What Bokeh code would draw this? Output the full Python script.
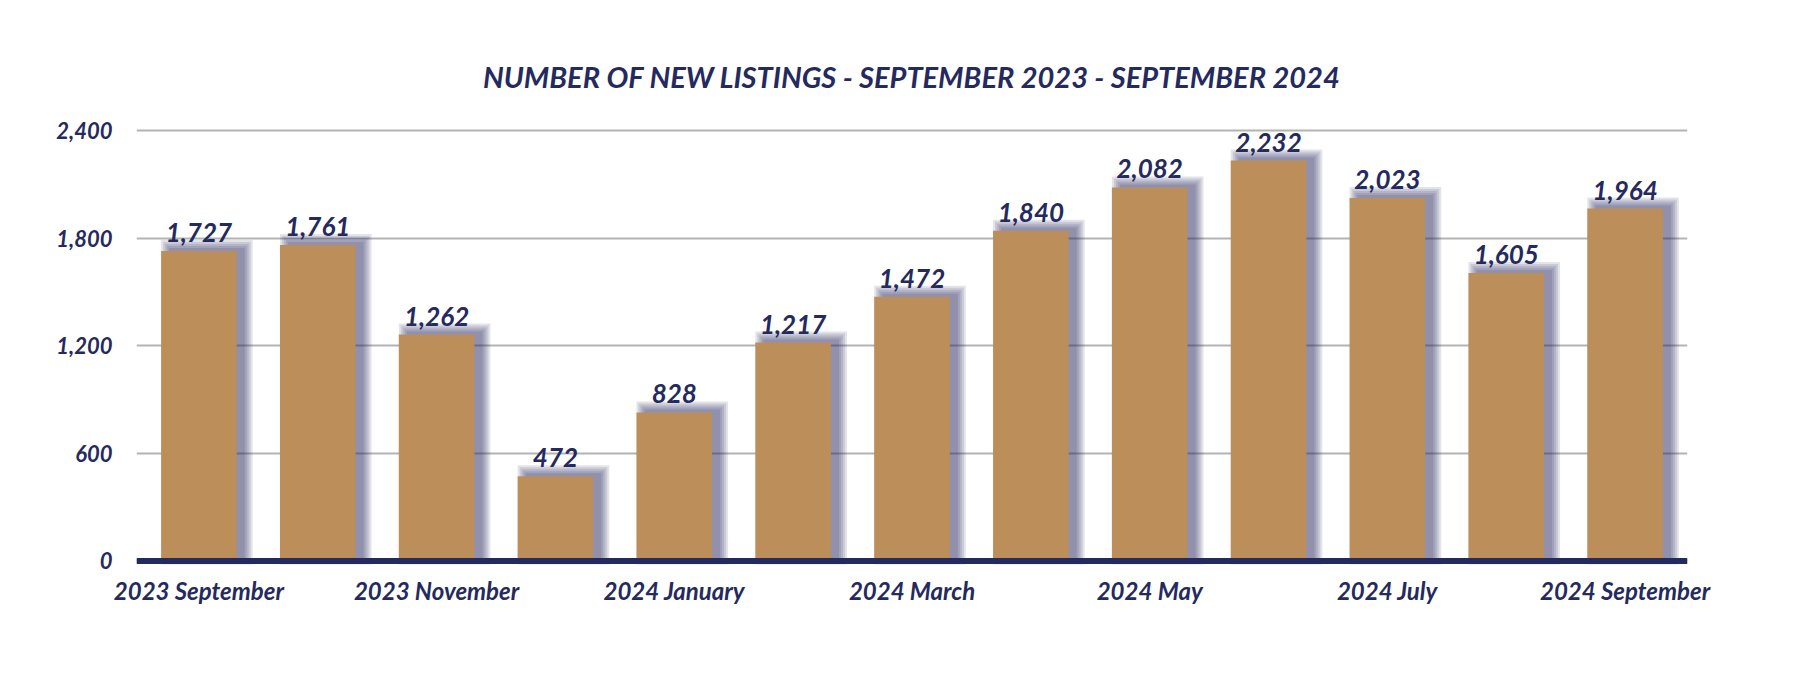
from bokeh.plotting import figure
from bokeh.models import (ColumnDataSource, FixedTicker, NumeralTickFormatter,
                          Span, Range1d, Title)
from bokeh.core.properties import value
from bokeh.embed import file_html
from bokeh.resources import INLINE

# ---- data ----
months = ["2023 September", "2023 October", "2023 November", "2023 December",
          "2024 January", "2024 February", "2024 March", "2024 April",
          "2024 May", "2024 June", "2024 July", "2024 August", "2024 September"]
listings = [1727, 1761, 1262, 472, 828, 1217, 1472, 1840, 2082, 2232, 2023, 1605, 1964]
y_ticks = [0, 600, 1200, 1800, 2400]
title_text = "NUMBER OF NEW LISTINGS - SEPTEMBER 2023 - SEPTEMBER 2024"

NAVY = "#252a5e"
GOLD = "#bc8e5a"
FONT = "Lato"

W, H = 1784, 658
BL, BR, BT, BB = 136, 97, 94, 94
x_lo, x_hi = -0.525, 12.525
y_lo, y_hi = -20, 2600

p = figure(width=W, height=H, output_backend="svg", toolbar_location=None,
           x_range=Range1d(x_lo, x_hi), y_range=Range1d(y_lo, y_hi),
           min_border_left=BL, min_border_right=BR,
           min_border_top=BT, min_border_bottom=BB)
p.outline_line_color = None
p.background_fill_color = "white"
p.border_fill_color = "white"

idx = list(range(len(months)))
bar_w = 0.636

# pixel -> data conversions for the shadow
ux = (x_hi - x_lo) / (W - BL - BR)
uy = (y_hi - y_lo) / (H - BT - BB)

# soft shadow (layered translucent quads, offset up-right)
dx, dy = 8 * ux, 3 * uy
for k in [8, 6, 4, 2, 0]:
    ex, ey = k * ux, k * uy
    p.quad(left=[i - bar_w / 2 + dx - ex for i in idx],
           right=[i + bar_w / 2 + dx + ex for i in idx],
           top=[v + dy + ey for v in listings],
           bottom=[dy - ey for _ in listings],
           fill_color=NAVY, fill_alpha=0.13, line_color=None)

# axis baseline
p.add_layout(Span(location=0, dimension="width", line_color=NAVY, line_width=6))

src = ColumnDataSource(dict(x=idx, y=listings,
                            lab=[f"{v:,}" for v in listings]))
p.vbar(x="x", top="y", bottom=0, width=bar_w, source=src,
       fill_color=GOLD, line_color=None)

p.text(x="x", y="y", text="lab", source=src, text_align="center",
       text_baseline="bottom", y_offset=-9, text_color=NAVY,
       text_font=value(FONT), text_font_size="26px", text_font_style="bold italic")

# y axis
p.yaxis.ticker = FixedTicker(ticks=y_ticks)
p.yaxis.formatter = NumeralTickFormatter(format="0,0")
p.yaxis.axis_line_color = None
p.yaxis.major_tick_line_color = None
p.yaxis.minor_tick_line_color = None
p.yaxis.major_label_standoff = 18
p.yaxis.major_label_text_font = FONT
p.yaxis.major_label_text_font_size = "22px"
p.yaxis.major_label_text_font_style = "bold italic"
p.yaxis.major_label_text_color = NAVY

# x axis
p.xaxis.ticker = FixedTicker(ticks=idx[::2])
p.xaxis.major_label_overrides = {i: months[i] for i in idx[::2]}
p.xaxis.axis_line_color = None
p.xaxis.major_tick_line_color = None
p.xaxis.minor_tick_line_color = None
p.xaxis.major_label_standoff = 5
p.xaxis.major_label_text_font = FONT
p.xaxis.major_label_text_font_size = "24px"
p.xaxis.major_label_text_font_style = "bold italic"
p.xaxis.major_label_text_color = NAVY

p.xgrid.grid_line_color = None
p.ygrid.ticker = FixedTicker(ticks=y_ticks)
p.ygrid.grid_line_color = "#b3b3b3"
p.ygrid.grid_line_width = 2

t = Title(text=title_text, align="center", vertical_align="middle",
          text_font=FONT, text_font_size="29px", text_font_style="bold italic",
          text_color=NAVY, standoff=0)
p.add_layout(t, "above")

open("out.html", "w").write(file_html(p, INLINE))
